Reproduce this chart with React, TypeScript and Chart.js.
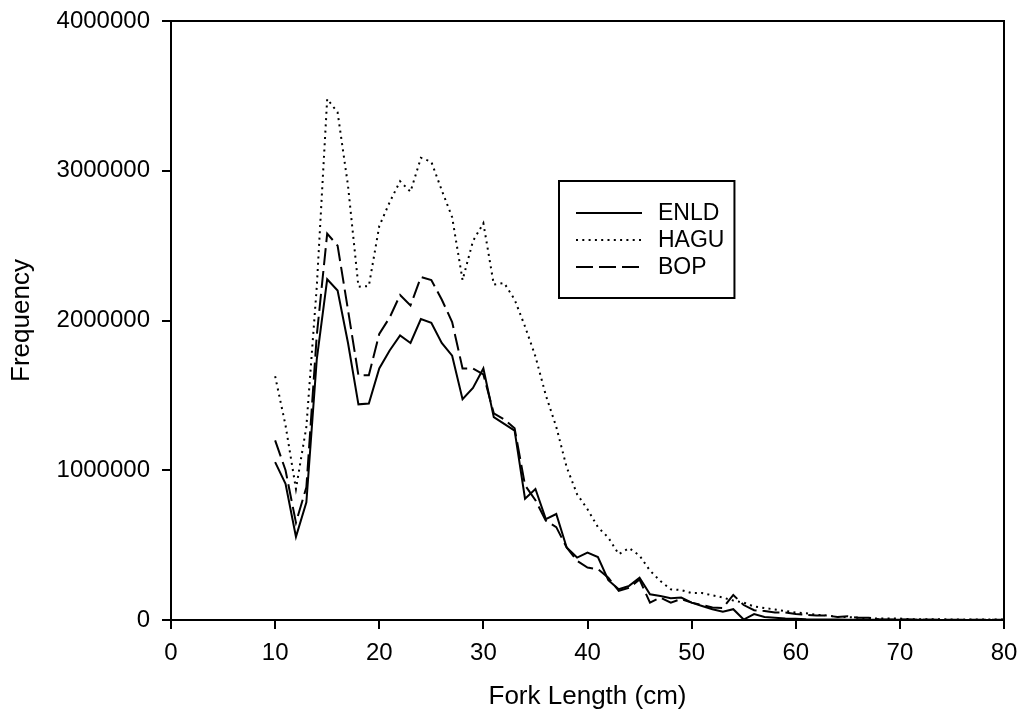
import React, { useEffect, useRef } from "react";
import { Chart, registerables } from "chart.js";

Chart.register(...registerables);

const lengths: number[] = [];
for (let i = 10; i <= 80; i++) lengths.push(i);

const enld = [
  1054000, 910000, 556000, 786000, 1740000, 2275000, 2200000, 1850000, 1440000, 1445000,
  1680000, 1800000, 1900000, 1850000, 2010000, 1985000, 1850000, 1765000, 1475000, 1550000,
  1680000, 1355000, 1310000, 1265000, 810000, 875000, 674000, 708000, 484000, 417000,
  450000, 420000, 266000, 205000, 228000, 283000, 172000, 160000, 145000, 150000,
  116000, 94000, 72000, 56000, 72000, 3000, 40000, 20000, 15000, 10000,
  8000, 5000, 4000, 3000, 3000, 2000, 2000, 1000, 1000, 1000,
  1000, 1000, 1000, 1000, 500, 500, 500, 500, 500, 500, 500,
];

const hagu = [
  1628000, 1300000, 875000, 1290000, 2226000, 3480000, 3390000, 2900000, 2226000, 2230000,
  2630000, 2790000, 2930000, 2860000, 3086000, 3060000, 2870000, 2690000, 2270000, 2530000,
  2650000, 2240000, 2250000, 2140000, 1960000, 1760000, 1500000, 1290000, 1020000, 840000,
  740000, 620000, 550000, 440000, 480000, 430000, 330000, 260000, 205000, 200000,
  180000, 180000, 165000, 150000, 130000, 116000, 90000, 80000, 70000, 60000,
  50000, 45000, 35000, 30000, 20000, 20000, 15000, 10000, 10000, 10000,
  10000, 6000, 5000, 5000, 5000, 4000, 4000, 4000, 3000, 3000, 3000,
];

const bop = [
  1200000, 1000000, 650000, 886000, 1900000, 2580000, 2500000, 2070000, 1634000, 1634000,
  1910000, 2020000, 2170000, 2100000, 2290000, 2270000, 2140000, 1990000, 1680000, 1680000,
  1640000, 1380000, 1340000, 1280000, 900000, 800000, 663000, 620000, 484000, 395000,
  350000, 340000, 283000, 194000, 216000, 270000, 116000, 150000, 116000, 140000,
  116000, 100000, 83000, 80000, 167000, 100000, 65000, 60000, 50000, 50000,
  40000, 35000, 30000, 30000, 20000, 25000, 15000, 15000, 5000, 3000,
  3000, 3000, 2000, 2000, 2000, 2000, 1000, 1000, 1000, 1000, 1000,
];

const seriesNames = ["ENLD", "HAGU", "BOP"];
const xTicks = [0, 10, 20, 30, 40, 50, 60, 70, 80];
const yTicks = [0, 1000000, 2000000, 3000000, 4000000];

const FONT = 'Arial, "Liberation Sans", sans-serif';

const framePlugin = {
  id: "frame",
  afterDraw(chart: any) {
    const { ctx, chartArea } = chart;
    ctx.save();
    ctx.strokeStyle = "#000";
    ctx.lineWidth = 2;
    ctx.strokeRect(chartArea.left, chartArea.top, chartArea.right - chartArea.left, chartArea.bottom - chartArea.top);

    // legend
    const boxL = 559, boxT = 181, boxB = 298;
    ctx.font = `23px ${FONT}`;
    const textX = 658;
    let maxW = 0;
    seriesNames.forEach((n) => (maxW = Math.max(maxW, ctx.measureText(n).width)));
    const boxR = textX + maxW + 10;
    ctx.fillStyle = "#fff";
    ctx.fillRect(boxL, boxT, boxR - boxL, boxB - boxT);
    ctx.lineWidth = 2;
    ctx.strokeRect(boxL, boxT, boxR - boxL, boxB - boxT);
    const rows = [213, 240, 267];
    const dashes = [[], [2, 4.3], [17, 6]];
    chart.data.datasets.forEach((ds: any, i: number) => {
      ctx.beginPath();
      ctx.setLineDash(dashes[i]);
      ctx.lineWidth = ds.borderWidth;
      ctx.moveTo(576, rows[i]);
      ctx.lineTo(642, rows[i]);
      ctx.stroke();
      ctx.setLineDash([]);
      ctx.fillStyle = "#000";
      ctx.textBaseline = "middle";
      ctx.textAlign = "left";
      ctx.fillText(seriesNames[i], textX, rows[i] + 1);
    });
    ctx.restore();
  },
};

export default function App() {
  const ref = useRef<HTMLCanvasElement>(null);
  useEffect(() => {
    if (!ref.current) return;
    const mk = (vals: number[]) => lengths.map((x, i) => ({ x, y: vals[i] }));
    const chart = new Chart(ref.current, {
      type: "line",
      data: {
        datasets: [
          { label: seriesNames[0], data: mk(enld), borderColor: "#000", borderWidth: 2, pointRadius: 0, tension: 0, fill: false },
          { label: seriesNames[1], data: mk(hagu), borderColor: "#000", borderWidth: 2, borderDash: [2, 4.3], pointRadius: 0, tension: 0, fill: false },
          { label: seriesNames[2], data: mk(bop), borderColor: "#000", borderWidth: 2, borderDash: [17, 6], pointRadius: 0, tension: 0, fill: false },
        ],
      },
      options: {
        responsive: false,
        animation: false,
        layout: { padding: { top: 21, right: 15, left: 0, bottom: 0 } },
        plugins: { legend: { display: false }, tooltip: { enabled: false } },
        scales: {
          x: {
            type: "linear",
            min: 0,
            max: 80,
            afterBuildTicks: (s: any) => { s.ticks = xTicks.map((v) => ({ value: v })); },
            afterFit: (s: any) => { s.height = 100; },
            ticks: { color: "#000", font: { family: FONT, size: 24, lineHeight: 1.9 }, padding: 1.5, maxRotation: 0, callback: (v: any) => String(v) },
            grid: { drawOnChartArea: false, drawTicks: true, tickLength: 9, color: "#000", lineWidth: 2 },
            border: { display: true, color: "#000", width: 2 },
            title: { display: true, text: "Fork Length (cm)", color: "#000", font: { family: FONT, size: 26 }, padding: { top: 0, bottom: 8 } },
          },
          y: {
            type: "linear",
            min: 0,
            max: 4000000,
            afterBuildTicks: (s: any) => { s.ticks = yTicks.map((v) => ({ value: v })); },
            afterFit: (s: any) => { s.width = 171; },
            ticks: { color: "#000", font: { family: FONT, size: 24, lineHeight: 0.7 }, padding: 12, callback: (v: any) => String(v) },
            grid: { drawOnChartArea: false, drawTicks: true, tickLength: 9, color: "#000", lineWidth: 2 },
            border: { display: true, color: "#000", width: 2 },
            title: { display: true, text: "Frequency", color: "#000", font: { family: FONT, size: 26 }, padding: { top: 6, bottom: 0 } },
          },
        },
      },
      plugins: [framePlugin],
    });
    return () => chart.destroy();
  }, []);
  return (
    <div style={{ position: "fixed", left: 0, top: 0, width: 1019, height: 720, background: "#fff" }}>
      <canvas ref={ref} width={1019} height={720} />
    </div>
  );
}
